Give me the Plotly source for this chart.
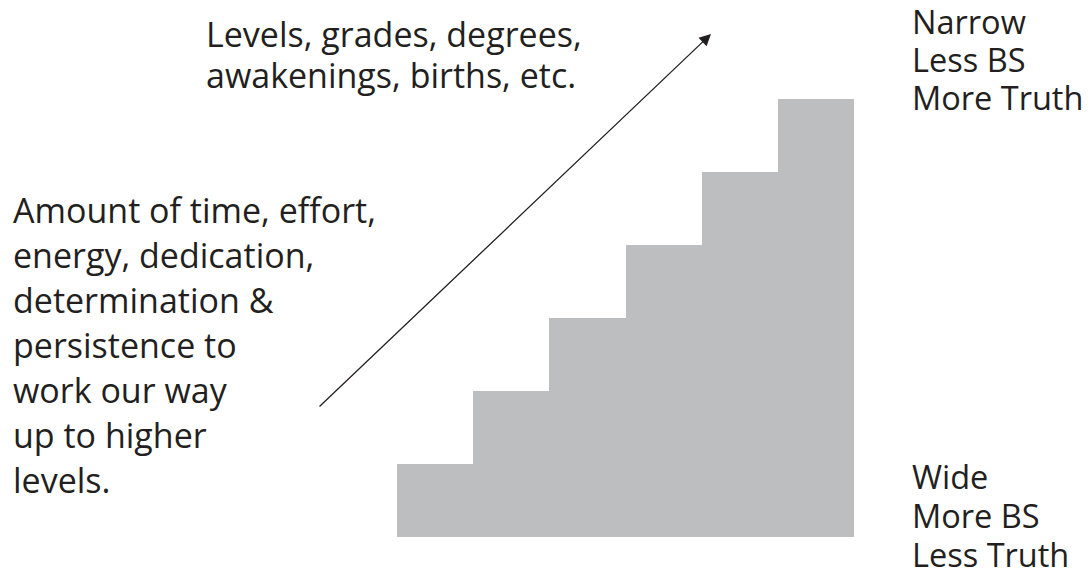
import plotly.graph_objects as go

# ---- data ----
steps = [0, 1, 2, 3, 4, 5]          # stair step index (left to right)
levels = [1, 2, 3, 4, 5, 6]         # height of each step, in step units

left_lines = ["Amount of time, effort,", "energy, dedication,", "determination &",
              "persistence to", "work our way", "up to higher", "levels."]
top_lines = ["Levels, grades, degrees,", "awakenings, births, etc."]
right_top_lines = ["Narrow", "Less BS", "More Truth"]
right_bottom_lines = ["Wide", "More BS", "Less Truth"]

# ---- layout helpers ----
W, H = 1091, 584
FONT = "Open Sans"
TXT = "#231f20"
STAIR = "#bcbec0"


def px(x):
    return x / W


def py(y):
    return 1 - y / H


fig = go.Figure()
fig.add_trace(go.Bar(x=steps, y=levels, width=1, marker=dict(color=STAIR, line=dict(width=0)),
                     hoverinfo="skip", showlegend=False))

# axis ranges: stair from x pixel 397..854, bottom at y pixel 537, 73 px per level
unit_x = (854 - 397) / 6
unit_y = 73.0
x0 = -0.5 - 397 / unit_x
x1 = 5.5 + (W - 854) / unit_x
y0 = -(H - 537) / unit_y
y1 = 537 / unit_y

annotations = []


def add_lines(lines, x_left, first_base, spacing, size):
    for i, t in enumerate(lines):
        base = first_base + spacing * i
        center = base - 0.36 * size
        annotations.append(dict(text=t, x=px(x_left), y=py(center), xref="paper", yref="paper",
                                xanchor="left", yanchor="middle", showarrow=False,
                                font=dict(family=FONT, size=size, color=TXT)))


add_lines(left_lines, 11, 222, 45, 34)
add_lines(top_lines, 204, 46, 41, 34)
add_lines(right_top_lines, 910, 33, 38, 32.5)
add_lines(right_bottom_lines, 910, 488, 39, 32.5)

# arrow from tail (318, 408) to tip (711, 34)
annotations.append(dict(text="", x=px(711), y=py(34), xref="paper", yref="paper",
                        ax=318 - 711, ay=408 - 34, axref="pixel", ayref="pixel",
                        showarrow=True, arrowhead=2, arrowsize=1.8, arrowwidth=1.3,
                        arrowcolor=TXT, standoff=0, startstandoff=0))

fig.update_layout(
    width=W, height=H,
    margin=dict(l=0, r=0, t=0, b=0),
    paper_bgcolor="white", plot_bgcolor="white",
    bargap=0,
    xaxis=dict(range=[x0, x1], visible=False, fixedrange=True),
    yaxis=dict(range=[y0, y1], visible=False, fixedrange=True),
    annotations=annotations,
    showlegend=False,
)

fig.write_html("out.html", config={"displayModeBar": False},
               post_script="document.body.style.margin='0px';document.body.style.overflow='hidden';")
